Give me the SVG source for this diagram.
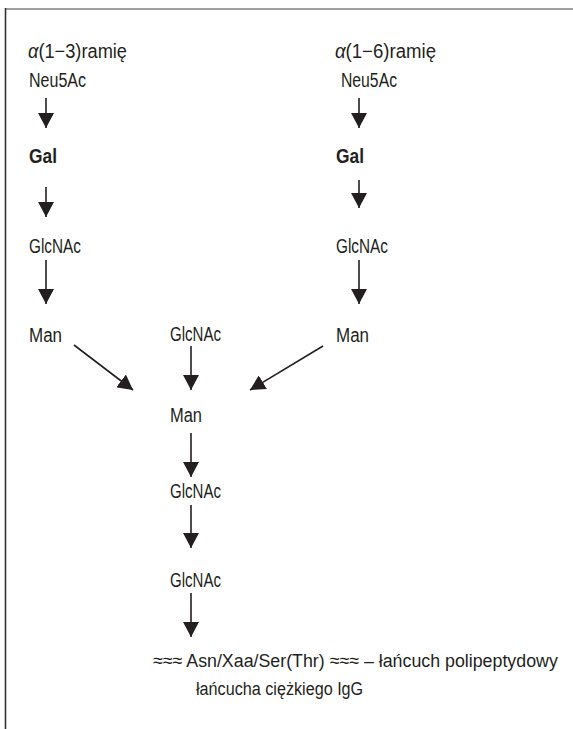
<svg xmlns="http://www.w3.org/2000/svg" width="573" height="729" viewBox="0 0 573 729">
<style>
text{font-family:"Liberation Sans Narrow","Liberation Sans",Arial,sans-serif;font-size:20px;fill:#231f20}
.b{font-weight:bold}
.s{font-size:19px}
.i{font-style:italic}
.c line{stroke:#231f20;stroke-width:1.6;marker-end:url(#ah)}
</style>
<defs>
<marker id="ah" markerUnits="userSpaceOnUse" viewBox="0 0 15 16" markerWidth="15" markerHeight="16" refX="15" refY="8" orient="auto">
<path d="M0,0 L15,8 L0,16 z" fill="#231f20"/>
</marker>
</defs>
<rect width="573" height="729" fill="#fff"/>
<line x1="5" y1="9" x2="573" y2="9" stroke="#808080" stroke-width="1.6"/>
<line x1="5.5" y1="8" x2="5.5" y2="729" stroke="#333" stroke-width="1.6"/>

<g id="n-arm13"><text x="28" y="58" textLength="99" lengthAdjust="spacingAndGlyphs"><tspan class="i">α</tspan>(1−3)ramię</text></g>
<g id="n-neu5ac-l"><text x="29" y="87" textLength="57" lengthAdjust="spacingAndGlyphs">Neu5Ac</text></g>
<g id="n-gal-l"><text class="b" x="29" y="163" textLength="28" lengthAdjust="spacingAndGlyphs">Gal</text></g>
<g id="n-glcnac-l"><text x="29" y="253" textLength="52" lengthAdjust="spacingAndGlyphs">GlcNAc</text></g>
<g id="n-man-l"><text x="29" y="342" textLength="33" lengthAdjust="spacingAndGlyphs">Man</text></g>

<g id="n-arm16"><text x="335" y="58" textLength="101" lengthAdjust="spacingAndGlyphs"><tspan class="i">α</tspan>(1−6)ramię</text></g>
<g id="n-neu5ac-r"><text x="341" y="87" textLength="56" lengthAdjust="spacingAndGlyphs">Neu5Ac</text></g>
<g id="n-gal-r"><text class="b" x="336" y="163" textLength="28" lengthAdjust="spacingAndGlyphs">Gal</text></g>
<g id="n-glcnac-r"><text x="336" y="253" textLength="52" lengthAdjust="spacingAndGlyphs">GlcNAc</text></g>
<g id="n-man-r"><text x="336" y="342" textLength="33" lengthAdjust="spacingAndGlyphs">Man</text></g>

<g id="n-glcnac-c"><text x="170" y="341" textLength="51" lengthAdjust="spacingAndGlyphs">GlcNAc</text></g>
<g id="n-man-c"><text x="170" y="422" textLength="32" lengthAdjust="spacingAndGlyphs">Man</text></g>
<g id="n-glcnac-c2"><text x="170" y="498" textLength="51" lengthAdjust="spacingAndGlyphs">GlcNAc</text></g>
<g id="n-glcnac-c3"><text x="170" y="587" textLength="51" lengthAdjust="spacingAndGlyphs">GlcNAc</text></g>
<g id="n-chain">
<text class="s" transform="translate(153,667) scale(0.88,1)" x="0" y="0" textLength="460" lengthAdjust="spacingAndGlyphs">≈≈≈ Asn/Xaa/Ser(Thr) ≈≈≈ – łańcuch polipeptydowy</text>
<text class="s" transform="translate(196,695) scale(0.88,1)" x="0" y="0" textLength="190" lengthAdjust="spacingAndGlyphs">łańcucha ciężkiego IgG</text>
</g>

<g id="connectors" class="c">
<line x1="46" y1="98" x2="46" y2="128"/>
<line x1="46" y1="187" x2="46" y2="217"/>
<line x1="46" y1="260" x2="46" y2="304"/>
<line x1="359" y1="98" x2="359" y2="128"/>
<line x1="359" y1="180" x2="359" y2="208"/>
<line x1="359" y1="260" x2="359" y2="304"/>
<line x1="74" y1="345" x2="133" y2="390"/>
<line x1="191" y1="346" x2="191" y2="390"/>
<line x1="323" y1="346" x2="250" y2="390"/>
<line x1="191" y1="433" x2="191" y2="477"/>
<line x1="191" y1="505" x2="191" y2="548"/>
<line x1="191" y1="593" x2="191" y2="637"/>
</g>
</svg>
